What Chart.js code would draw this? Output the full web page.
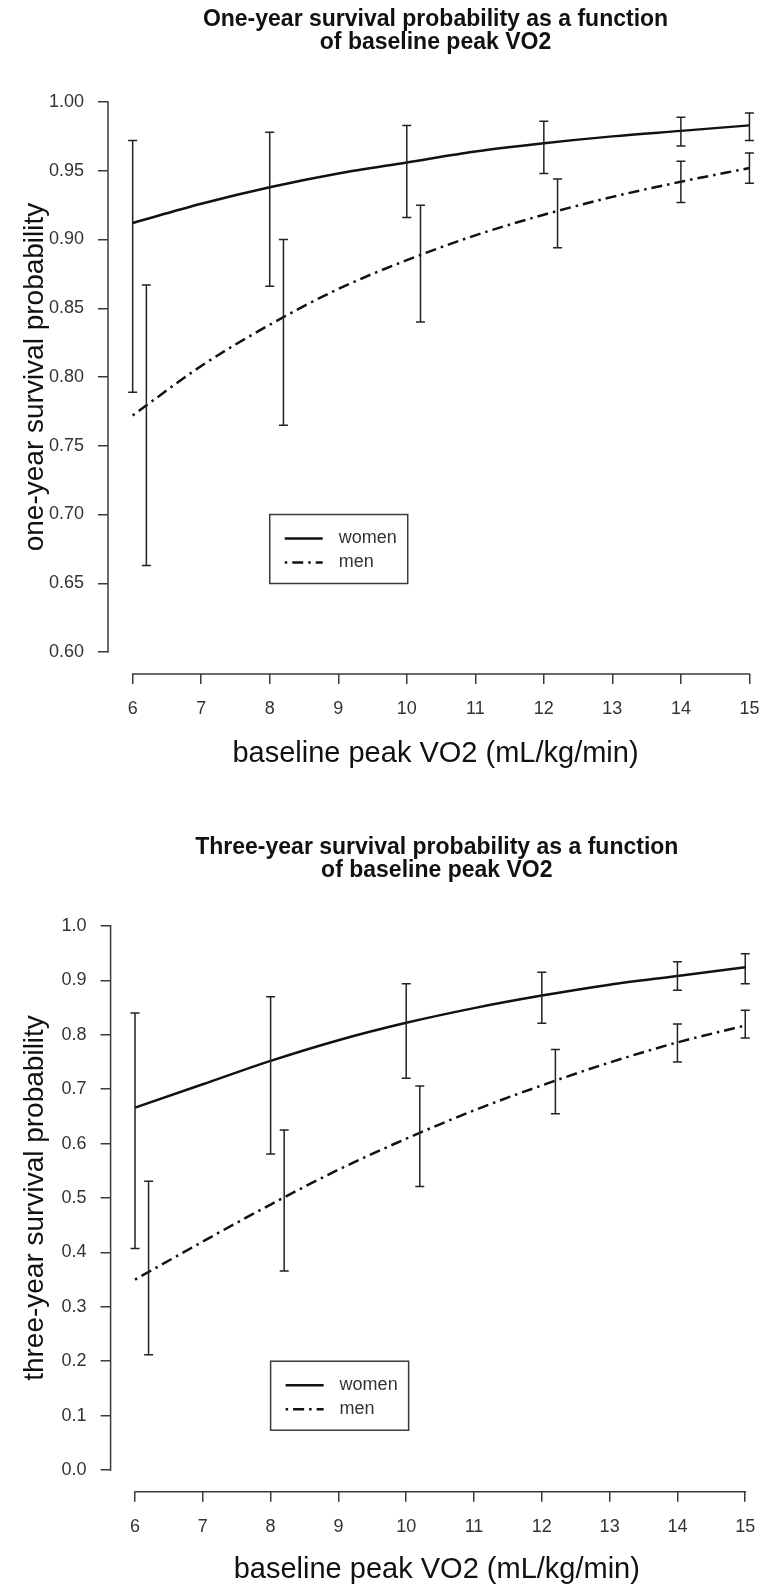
<!DOCTYPE html>
<html lang="en">
<head>
<meta charset="UTF-8">
<title>Survival probability vs baseline peak VO2</title>
<script src="https://cdn.jsdelivr.net/npm/chart.js"></script>
<style>
    body { margin: 0; background: #ffffff; }
    .panel { position: absolute; left: 0; width: 763px; }
    #top { top: 0; height: 790px; }
    #bottom { top: 790px; height: 797px; }
</style>
</head>
<body>
<div class="panel" id="top"><canvas id="chart1"></canvas></div>
<div class="panel" id="bottom"><canvas id="chart2"></canvas></div>

<script>
// curve values, read at each integer peak VO2
const vo2 = [6, 7, 8, 9, 10, 11, 12, 13, 14, 15];
const women1yr = [0.912, 0.926, 0.938, 0.948, 0.956, 0.964, 0.970, 0.975, 0.979, 0.983];
const men1yr   = [0.772, 0.808, 0.838, 0.864, 0.885, 0.903, 0.918, 0.931, 0.942, 0.952];
const women3yr = [0.666, 0.709, 0.752, 0.790, 0.822, 0.849, 0.872, 0.892, 0.908, 0.924];
const men3yr   = [0.350, 0.420, 0.488, 0.552, 0.609, 0.661, 0.707, 0.749, 0.786, 0.817];

// error bars (confidence intervals)
const womenBarX = [6, 8, 10, 12, 14, 15];
const menBarX   = [6.2, 8.2, 10.2, 12.2, 14, 15];
const women1yrLo = [0.789, 0.866, 0.916, 0.948, 0.968, 0.972];
const women1yrHi = [0.972, 0.978, 0.983, 0.986, 0.989, 0.992];
const men1yrLo   = [0.663, 0.765, 0.840, 0.894, 0.927, 0.941];
const men1yrHi   = [0.867, 0.900, 0.925, 0.944, 0.957, 0.963];
const women3yrLo = [0.407, 0.581, 0.720, 0.821, 0.882, 0.894];
const women3yrHi = [0.840, 0.870, 0.894, 0.915, 0.934, 0.949];
const men3yrLo   = [0.212, 0.366, 0.521, 0.655, 0.750, 0.794];
const men3yrHi   = [0.531, 0.625, 0.706, 0.773, 0.820, 0.845];

// tick labels
const xTicks = [6, 7, 8, 9, 10, 11, 12, 13, 14, 15];
const yTicks1yr = [0.60, 0.65, 0.70, 0.75, 0.80, 0.85, 0.90, 0.95, 1.00];
const yTicks3yr = [0.0, 0.1, 0.2, 0.3, 0.4, 0.5, 0.6, 0.7, 0.8, 0.9, 1.0];

const seriesNames = ['women', 'men'];
const axisColor = '#3a3a3a';
const menDash = [2.5, 5, 11, 5];

Chart.defaults.font.family = '"Liberation Sans", Arial, sans-serif';
Chart.defaults.color = '#333333';

const toPoints = (xs, ys) => xs.map((v, i) => ({ x: v, y: ys[i] }));

// R style: detached axis lines, error bars with caps, boxed legend
const rStyle = {
    id: 'rStyle',
    afterDatasetsDraw(chart, args, opts) {
        const ctx = chart.ctx;
        const xs = chart.scales.x, ys = chart.scales.y;
        const area = chart.chartArea;
        ctx.save();

        // axis lines only over the tick range
        const xv = xs.ticks.map(t => t.value), yv = ys.ticks.map(t => t.value);
        ctx.strokeStyle = axisColor;
        ctx.lineWidth = 1.5;
        ctx.beginPath();
        ctx.moveTo(area.left, ys.getPixelForValue(Math.min(...yv)) + 0.75);
        ctx.lineTo(area.left, ys.getPixelForValue(Math.max(...yv)) - 0.75);
        ctx.moveTo(xs.getPixelForValue(Math.min(...xv)) - 0.75, area.bottom);
        ctx.lineTo(xs.getPixelForValue(Math.max(...xv)) + 0.75, area.bottom);
        ctx.stroke();

        // error bars
        ctx.strokeStyle = '#222';
        ctx.lineWidth = 1.5;
        opts.bars.forEach(b => {
            b.x.forEach((xv, i) => {
                const px = xs.getPixelForValue(xv);
                const lo = ys.getPixelForValue(b.lo[i]);
                const hi = ys.getPixelForValue(b.hi[i]);
                ctx.beginPath();
                ctx.moveTo(px, lo); ctx.lineTo(px, hi);
                ctx.moveTo(px - 4.5, lo); ctx.lineTo(px + 4.5, lo);
                ctx.moveTo(px - 4.5, hi); ctx.lineTo(px + 4.5, hi);
                ctx.stroke();
            });
        });

        // legend box
        const lx = xs.getPixelForValue(opts.legendAt[0]);
        const ly = ys.getPixelForValue(opts.legendAt[1]);
        ctx.strokeStyle = axisColor;
        ctx.lineWidth = 1.5;
        ctx.strokeRect(lx, ly, 138, 69);
        chart.data.datasets.forEach((ds, i) => {
            const ry = ly + 24 + i * 24;
            ctx.strokeStyle = ds.borderColor;
            ctx.lineWidth = ds.borderWidth;
            ctx.setLineDash(ds.borderDash || []);
            ctx.beginPath();
            ctx.moveTo(lx + 15, ry);
            ctx.lineTo(lx + 53, ry);
            ctx.stroke();
            ctx.setLineDash([]);
            ctx.fillStyle = '#333';
            ctx.font = '18px "Liberation Sans", Arial, sans-serif';
            ctx.textBaseline = 'middle';
            ctx.textAlign = 'left';
            ctx.fillText(ds.label, lx + 69, ry);
        });
        ctx.restore();
    }
};

function makeChart(id, cfg) {
    return new Chart(document.getElementById(id), {
        type: 'line',
        data: {
            datasets: [{
                label: seriesNames[0],
                data: toPoints(vo2, cfg.women),
                borderColor: '#111',
                borderWidth: 2.5,
                pointRadius: 0,
                cubicInterpolationMode: 'monotone'
            }, {
                label: seriesNames[1],
                data: toPoints(vo2, cfg.men),
                borderColor: '#111',
                borderWidth: 2.5,
                borderDash: menDash,
                pointRadius: 0,
                cubicInterpolationMode: 'monotone'
            }]
        },
        options: {
            responsive: true,
            maintainAspectRatio: false,
            animation: false,
            layout: { padding: 0 },
            plugins: {
                legend: { display: false },
                tooltip: { enabled: false },
                title: {
                    display: true,
                    fullSize: false,
                    text: cfg.title,
                    color: '#111',
                    font: { size: 23, weight: 'bold', lineHeight: 1.0 },
                    padding: cfg.titlePad
                },
                rStyle: { bars: cfg.bars, legendAt: cfg.legendAt }
            },
            scales: {
                x: {
                    type: 'linear',
                    min: 5.64,
                    max: cfg.xMax,
                    afterBuildTicks: s => { s.ticks = xTicks.map(v => ({ value: v })); },
                    afterFit: s => { s.height = cfg.xHeight; s.paddingLeft = 0; s.paddingRight = 0; },
                    border: { display: false },
                    grid: { drawOnChartArea: false, drawTicks: true, tickLength: 10, color: axisColor, lineWidth: 1.5 },
                    ticks: { font: { size: 18 }, color: '#333', padding: 14, maxRotation: 0 },
                    title: {
                        display: true,
                        text: 'baseline peak VO2 (mL/kg/min)',
                        color: '#111',
                        font: { size: 29 },
                        padding: { top: 0, bottom: cfg.xTitlePad }
                    }
                },
                y: {
                    type: 'linear',
                    min: cfg.yMin,
                    max: cfg.yMax,
                    afterBuildTicks: s => { s.ticks = cfg.yTicks.map(v => ({ value: v })); },
                    afterFit: s => { s.width = cfg.yWidth; s.paddingTop = 0; s.paddingBottom = 0; },
                    border: { display: false },
                    grid: { drawOnChartArea: false, drawTicks: true, tickLength: 10, color: axisColor, lineWidth: 1.5 },
                    ticks: { font: { size: 18 }, color: '#333', padding: 14, callback: v => v.toFixed(cfg.digits) },
                    title: {
                        display: true,
                        text: cfg.yTitle,
                        color: '#111',
                        font: { size: 28 },
                        padding: { top: 18, bottom: 0 }
                    }
                }
            }
        },
        plugins: [rStyle]
    });
}

makeChart('chart1', {
    title: ['One-year survival probability as a function', 'of baseline peak VO2'],
    titlePad: { top: 8, bottom: 26 },
    women: women1yr, men: men1yr,
    bars: [{ x: womenBarX, lo: women1yrLo, hi: women1yrHi }, { x: menBarX, lo: men1yrLo, hi: men1yrHi }],
    legendAt: [8, 0.70],
    xMax: 15.198, xHeight: 116, xTitlePad: 19,
    yMin: 0.584, yMax: 1.016, yTicks: yTicks1yr, yWidth: 108, digits: 2,
    yTitle: 'one-year survival probability'
});

makeChart('chart2', {
    title: ['Three-year survival probability as a function', 'of baseline peak VO2'],
    titlePad: { top: 46.5, bottom: 21.7 },
    women: women3yr, men: men3yr,
    bars: [{ x: womenBarX, lo: women3yrLo, hi: women3yrHi }, { x: menBarX, lo: men3yrLo, hi: men3yrHi }],
    legendAt: [8, 0.20],
    xMax: 15.262, xHeight: 95.2, xTitlePad: 0,
    yMin: -0.04, yMax: 1.04, yTicks: yTicks3yr, yWidth: 110.6, digits: 1,
    yTitle: 'three-year survival probability'
});
</script>
</body>
</html>
